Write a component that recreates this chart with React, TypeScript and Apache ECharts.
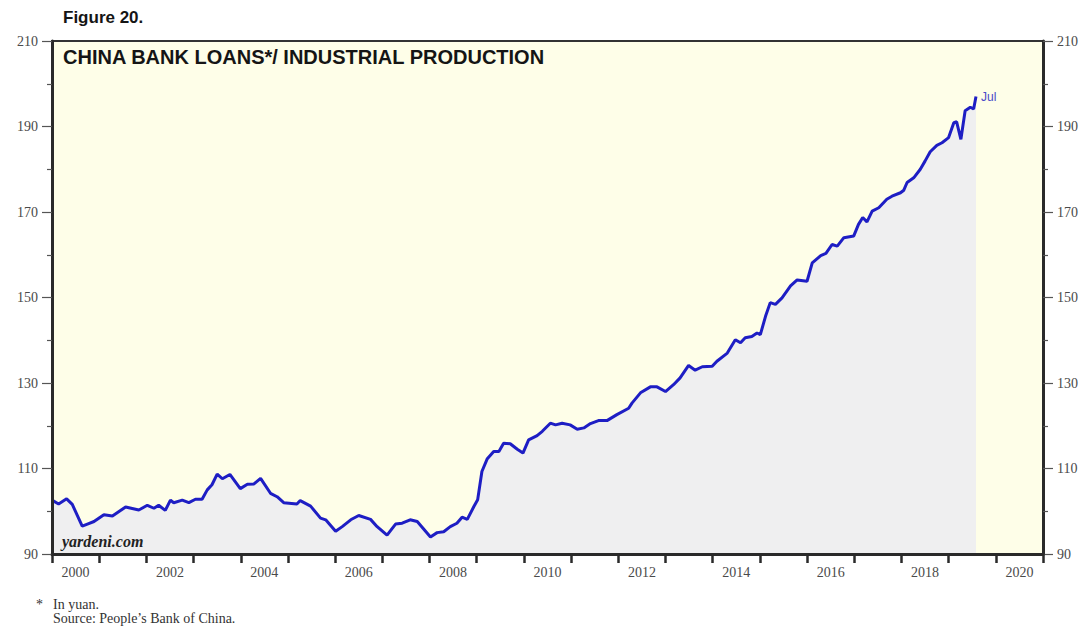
import React, { useEffect, useRef } from "react";
import * as echarts from "echarts";

// Decimal-year positions of the readings (month resolution)
const xDates: number[] = [
  2000.0, 2000.14, 2000.31, 2000.43, 2000.64, 2000.75, 2000.89, 2001.1, 2001.28, 2001.56,
  2001.84, 2002.02, 2002.16, 2002.26, 2002.4, 2002.51, 2002.58, 2002.76, 2002.9, 2003.04,
  2003.18, 2003.29, 2003.39, 2003.5, 2003.61, 2003.77, 2003.99, 2004.14, 2004.28, 2004.42,
  2004.63, 2004.77, 2004.91, 2005.19, 2005.26, 2005.48, 2005.69, 2005.8, 2006.01, 2006.15,
  2006.33, 2006.5, 2006.75, 2006.89, 2007.1, 2007.28, 2007.42, 2007.59, 2007.74, 2008.02,
  2008.16, 2008.3, 2008.44, 2008.58, 2008.69, 2008.8, 2008.94, 2009.02, 2009.11, 2009.22,
  2009.36, 2009.47, 2009.57, 2009.71, 2009.86, 2009.98, 2010.1, 2010.28, 2010.39, 2010.56,
  2010.67, 2010.81, 2010.98, 2011.13, 2011.27, 2011.41, 2011.58, 2011.76, 2011.97, 2012.22,
  2012.29, 2012.47, 2012.68, 2012.82, 2013.0, 2013.17, 2013.31, 2013.49, 2013.63, 2013.78,
  2013.99, 2014.09, 2014.31, 2014.48, 2014.59, 2014.69, 2014.83, 2014.94, 2015.01, 2015.12,
  2015.22, 2015.33, 2015.47, 2015.65, 2015.79, 2016.0, 2016.11, 2016.29, 2016.4, 2016.53,
  2016.64, 2016.78, 2016.99, 2017.09, 2017.18, 2017.27, 2017.38, 2017.52, 2017.69, 2017.8,
  2017.98, 2018.05, 2018.12, 2018.26, 2018.4, 2018.5, 2018.61, 2018.75, 2018.86, 2019.0,
  2019.11, 2019.17, 2019.26, 2019.35, 2019.46, 2019.53, 2019.58,
];

// China bank loans / industrial production ratio
const loanRatio: number[] = [
  102.6, 101.7, 102.9, 101.6, 96.5, 97.0, 97.6, 99.2, 98.9, 101.0,
  100.3, 101.4, 100.7, 101.4, 100.2, 102.6, 102.0, 102.6, 102.0, 102.8,
  102.8, 105.0, 106.2, 108.7, 107.6, 108.6, 105.3, 106.3, 106.4, 107.7,
  104.2, 103.4, 102.0, 101.7, 102.5, 101.2, 98.4, 98.0, 95.3, 96.4,
  98.0, 99.0, 98.1, 96.4, 94.4, 97.0, 97.2, 98.0, 97.6, 94.0,
  95.0, 95.2, 96.4, 97.2, 98.6, 98.1, 101.1, 102.7, 109.3, 112.2,
  114.0, 114.0, 115.9, 115.8, 114.5, 113.6, 116.7, 117.7, 118.7, 120.6,
  120.2, 120.6, 120.2, 119.2, 119.5, 120.5, 121.2, 121.2, 122.6, 124.1,
  125.3, 127.7, 129.1, 129.1, 128.0, 129.6, 131.2, 134.1, 133.0, 133.8,
  133.9, 135.1, 137.0, 140.1, 139.4, 140.6, 140.9, 141.7, 141.3, 145.6,
  148.8, 148.4, 149.9, 152.7, 154.1, 153.8, 158.1, 159.8, 160.3, 162.4,
  162.0, 164.0, 164.4, 167.1, 168.7, 167.7, 170.2, 171.0, 173.0, 173.7,
  174.5, 175.1, 176.9, 178.0, 180.0, 181.9, 184.1, 185.6, 186.2, 187.4,
  190.9, 191.1, 187.0, 193.7, 194.5, 194.1, 197.0,
];

const yearLabels: string[] = [
  "2000", "2001", "2002", "2003", "2004", "2005", "2006", "2007", "2008", "2009", "2010",
  "2011", "2012", "2013", "2014", "2015", "2016", "2017", "2018", "2019", "2020",
];

const Y_MIN = 90;
const Y_MAX = 210;
const Y_STEP = 20;
const lastLabel = "Jul";

const TITLE = "CHINA BANK LOANS*/ INDUSTRIAL PRODUCTION";
const FIGURE = "Figure 20.";
const WATERMARK = "yardeni.com";
const NOTE1 = "In yuan.";
const NOTE2 = "Source: People\u2019s Bank of China.";

export default function App() {
  const ref = useRef<HTMLDivElement>(null);

  useEffect(() => {
    if (!ref.current) return;
    const chart = echarts.init(ref.current, undefined, { renderer: "svg" });

    const serif = "'Liberation Serif', 'Times New Roman', serif";
    const sans = "'Liberation Sans', Arial, sans-serif";
    const axisColor = "#2a2a2a";
    const labelColor = "#4a4a4a";

    const yAxisCommon = {
      type: "value" as const,
      min: Y_MIN,
      max: Y_MAX,
      interval: Y_STEP,
      z: 10,
      splitLine: { show: false },
      axisLine: { show: true, lineStyle: { color: axisColor, width: 3 } },
      axisTick: { show: true, length: 10, lineStyle: { color: "#555", width: 1.2 } },
      minorTick: { show: true, splitNumber: 2, length: 5, lineStyle: { color: "#555", width: 1.2 } },
      axisLabel: { color: labelColor, fontFamily: serif, fontSize: 14, margin: 14 },
    };

    chart.setOption({
      animation: false,
      backgroundColor: "#ffffff",
      grid: {
        left: 52,
        right: 45,
        top: 41,
        bottom: 76,
        show: true,
        backgroundColor: "#fefee8",
        borderColor: "#333",
        borderWidth: 2,
      },
      xAxis: [
        {
          type: "category",
          data: yearLabels,
          boundaryGap: true,
          position: "bottom",
          z: 10,
          axisLine: { show: true, lineStyle: { color: axisColor, width: 3 } },
          axisTick: { show: true, interval: 0, alignWithLabel: false, length: 9, lineStyle: { color: axisColor, width: 2.5 } },
          axisLabel: { interval: 1, color: labelColor, fontFamily: serif, fontSize: 14, margin: 11 },
          splitLine: { show: false },
        },
        {
          type: "value",
          min: 2000,
          max: 2021,
          show: false,
          splitLine: { show: false },
        },
      ],
      yAxis: [
        { ...yAxisCommon, position: "left" },
        { ...yAxisCommon, position: "right" },
      ],
      series: [
        {
          type: "line",
          xAxisIndex: 1,
          yAxisIndex: 0,
          data: xDates.map((d, i) => [d, loanRatio[i]]),
          showSymbol: false,
          symbol: "none",
          lineStyle: { color: "#1e1ec4", width: 3 },
          areaStyle: { color: "#efeff0", opacity: 1, origin: "start" },
          z: 3,
          endLabel: {
            show: true,
            formatter: lastLabel,
            color: "#4a4ac8",
            fontFamily: sans,
            fontSize: 12,
            distance: 5,
          },
        },
      ],
      graphic: [
        {
          type: "text",
          left: 63,
          top: 9,
          style: { text: FIGURE, font: `bold 17px ${sans}`, fill: "#151515" },
        },
        {
          type: "text",
          left: 63,
          top: 47,
          z: 10,
          style: { text: TITLE, font: `bold 20px ${sans}`, fill: "#151515" },
        },
        {
          type: "text",
          left: 62,
          top: 533,
          z: 10,
          style: { text: WATERMARK, font: `italic bold 16px ${serif}`, fill: "#222" },
        },
        {
          type: "text",
          left: 36,
          top: 597,
          style: { text: "*", font: `14px ${serif}`, fill: "#333" },
        },
        {
          type: "text",
          left: 53,
          top: 597,
          style: { text: NOTE1, font: `14px ${serif}`, fill: "#333" },
        },
        {
          type: "text",
          left: 53,
          top: 611,
          style: { text: NOTE2, font: `14px ${serif}`, fill: "#333" },
        },
      ],
    });

    return () => chart.dispose();
  }, []);

  return (
    <div
      ref={ref}
      style={{ position: "absolute", left: 0, top: 0, width: 1088, height: 630 }}
    />
  );
}
